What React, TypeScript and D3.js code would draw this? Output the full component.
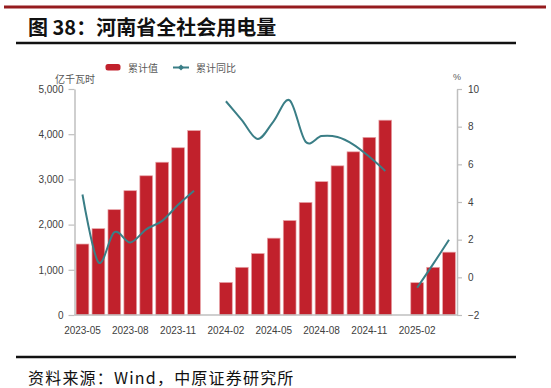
import React, { useEffect, useRef } from "react";
import * as d3 from "d3";

// 河南省全社会用电量：累计值（亿千瓦时）与累计同比（%）
const months = [
  "2023-05", "2023-06", "2023-07", "2023-08", "2023-09", "2023-10", "2023-11", "2023-12",
  "2024-01", "2024-02", "2024-03", "2024-04", "2024-05", "2024-06", "2024-07", "2024-08",
  "2024-09", "2024-10", "2024-11", "2024-12", "2025-01", "2025-02", "2025-03", "2025-04",
];

const cumulative: (number | null)[] = [
  1570, 1910, 2330, 2750, 3080, 3380, 3700, 4080,
  null, 720, 1055, 1360, 1700, 2090, 2490, 2950,
  3300, 3610, 3930, 4310, null, 715, 1055, 1390,
];

const yoy: (number | null)[] = [
  4.4, 0.8, 2.4, 1.85, 2.55, 3.0, 3.85, 4.6,
  null, 9.35, 8.35, 7.35, 8.3, 9.4, 7.2, 7.5,
  7.45, 7.05, 6.4, 5.65, null, -0.55, 0.7, 2.0,
];

const leftTicks = [0, 1000, 2000, 3000, 4000, 5000];
const rightTicks = [-2, 0, 2, 4, 6, 8, 10];
const xTickLabels = ["2023-05", "2023-08", "2023-11", "2024-02", "2024-05", "2024-08", "2024-11", "2025-02"];

const RED = "#c1212c";
const TEAL = "#3a7e86";
const AXIS = "#bfbfbf";
const NUM_FONT = "'Liberation Sans', Arial, sans-serif";
const CJK_FONT = "'Noto Sans CJK SC', sans-serif";

const App = () => {
  const chart = useRef<SVGGElement>(null);

  useEffect(() => {
    const left = 74.5;
    const right = 457;
    const top = 89;
    const bottom = 315;

    const g = d3.select(chart.current);
    g.selectAll("*").remove();

    const x = d3
      .scaleBand()
      .domain(months)
      .range([left, right])
      .paddingInner(0.2)
      .paddingOuter(0.1);

    const yL = d3.scaleLinear().domain([0, 5000]).range([bottom, top]);
    const yR = d3.scaleLinear().domain([-2, 10]).range([bottom, top]);

    // bars
    g.append("g")
      .selectAll("rect")
      .data(cumulative.map((v, i) => ({ m: months[i], v })).filter((d) => d.v != null))
      .join("rect")
      .attr("x", (d) => x(d.m)!)
      .attr("y", (d) => yL(d.v as number))
      .attr("width", x.bandwidth())
      .attr("height", (d) => yL(0) - yL(d.v as number))
      .attr("fill", RED)
      .attr("stroke", "#e7a3a7")
      .attr("stroke-width", 0.7);

    // left axis
    const ax = g
      .append("g")
      .attr("transform", `translate(${left},0)`)
      .call(
        d3
          .axisLeft(yL)
          .tickValues(leftTicks)
          .tickSize(6)
          .tickSizeOuter(0)
          .tickPadding(5)
          .tickFormat(d3.format(","))
      );

    // right axis
    const ar = g
      .append("g")
      .attr("transform", `translate(${right},0)`)
      .call(
        d3
          .axisRight(yR)
          .tickValues(rightTicks)
          .tickSize(5)
          .tickSizeOuter(0)
          .tickPadding(6)
          .tickFormat(d3.format("d"))
      );

    // bottom axis
    const xb = g
      .append("g")
      .attr("transform", `translate(0,${bottom})`)
      .call(d3.axisBottom(x).tickValues(xTickLabels).tickSize(0).tickSizeOuter(0).tickPadding(12));
    xb.select(".domain").attr("d", `M${left},0H${right}`);

    [ax, ar, xb].forEach((a) => {
      a.select(".domain").attr("stroke", AXIS).attr("stroke-width", 1.5);
      a.selectAll(".tick line").attr("stroke", AXIS).attr("stroke-width", 1.2);
      a.selectAll("text")
        .attr("fill", "#404040")
        .style("font-family", NUM_FONT)
        .style("font-size", "10px");
    });

    // line
    const line = d3
      .line<number | null>()
      .defined((d) => d != null)
      .x((d, i) => x(months[i])! + x.bandwidth() / 2)
      .y((d) => yR(d as number))
      .curve(d3.curveCardinal.tension(0));

    g.append("path")
      .datum(yoy)
      .attr("d", line)
      .attr("fill", "none")
      .attr("stroke", TEAL)
      .attr("stroke-width", 2);
  }, []);

  return (
    <svg
      width={551}
      height={388}
      style={{ position: "absolute", left: 0, top: 0, background: "#fff" }}
    >
      <line x1={4} x2={546} y1={7} y2={7} stroke="#951b1e" strokeWidth={3} />
      <text
        x={28}
        y={26}
        dominantBaseline="central"
        fontFamily={CJK_FONT}
        fontWeight="bold"
        fontSize={20}
        fill="#111"
      >
        图 38：河南省全社会用电量
      </text>
      <line x1={16} x2={516} y1={43} y2={43} stroke="#111" strokeWidth={2.5} />

      {/* legend */}
      <rect x={105.5} y={64} width={15} height={6.5} rx={2.5} fill={RED} />
      <text x={128} y={67.5} dominantBaseline="central" fontFamily={CJK_FONT} fontSize={10} fill="#595959">
        累计值
      </text>
      <line x1={173} x2={189} y1={67.5} y2={67.5} stroke={TEAL} strokeWidth={2} />
      <path d="M181,64.5L184,67.5L181,70.5L178,67.5Z" fill={TEAL} />
      <text x={196} y={67.5} dominantBaseline="central" fontFamily={CJK_FONT} fontSize={10} fill="#595959">
        累计同比
      </text>

      <text x={55} y={78} dominantBaseline="central" fontFamily={CJK_FONT} fontSize={10} fill="#595959">
        亿千瓦时
      </text>
      <text x={457} y={77} textAnchor="middle" dominantBaseline="central" fontFamily={NUM_FONT} fontSize={9} fill="#595959">
        %
      </text>

      <g ref={chart} />

      <line x1={16} x2={516} y1={357} y2={357} stroke="#111" strokeWidth={2.5} />
      <text
        x={28}
        y={377}
        dominantBaseline="central"
        fontFamily={CJK_FONT}
        fontSize={16}
        letterSpacing={1.2}
        fill="#111"
      >
        资料来源：Wind，中原证券研究所
      </text>
    </svg>
  );
};

export default App;
